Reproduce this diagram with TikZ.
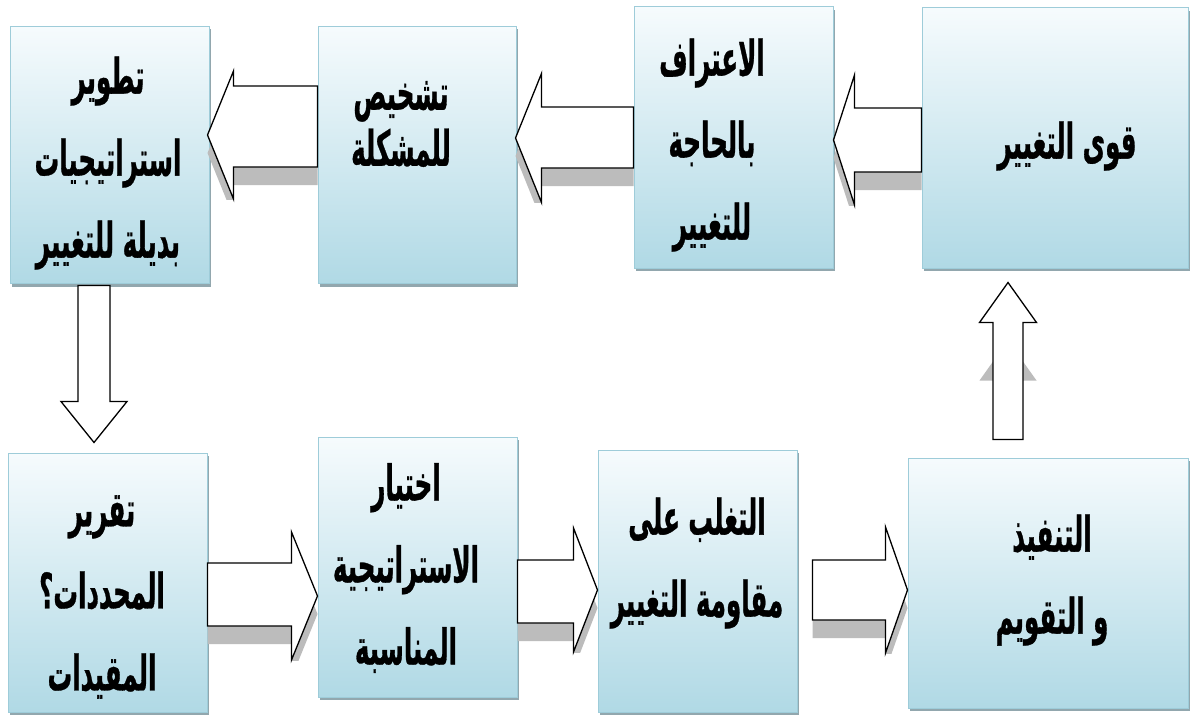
\documentclass[tikz,border=0pt]{standalone}
\usepackage{fontspec}
\TeXXeTstate=1
\newfontfamily\arabicfont[Script=Arabic,FakeStretch=0.5,FakeBold=0.6]{DejaVu Sans}
\usetikzlibrary{calc,shadows}

\definecolor{boxtop}{RGB}{246,251,253}
\definecolor{boxbot}{RGB}{176,217,229}
\definecolor{boxedge}{RGB}{158,204,217}
\definecolor{boxshade}{RGB}{135,158,166}
\definecolor{arrowshade}{RGB}{188,188,188}

% one right-to-left line of Arabic
\newcommand\arl[1]{\beginR #1\endR}

% horizontal block arrow: tail, tip, shaft above, shaft below,
% head half-height, head length, shadow drop (all in pt)
\newcommand\hblock[7]{%
  \begin{scope}
    \clip let \p1=(#1), \p2=(#2) in (\x1,\y2+#5pt) rectangle (\x2,\y2-#5pt);
    \fill[arrowshade] let \p1=(#1), \p2=(#2), \p3=($(#2)!#6pt!(#1)$) in
      (\x1,\y2+#3pt-#7pt) -- (\x3,\y2+#3pt-#7pt) -- (\x3,\y2+#5pt-#7pt) --
      (\x2,\y2-#7pt) -- (\x3,\y2-#5pt-#7pt) -- (\x3,\y2-#4pt-#7pt) --
      (\x1,\y2-#4pt-#7pt) -- cycle;
  \end{scope}
  \filldraw[blockarrow] let \p1=(#1), \p2=(#2), \p3=($(#2)!#6pt!(#1)$) in
    (\x1,\y2+#3pt) -- (\x3,\y2+#3pt) -- (\x3,\y2+#5pt) -- (\x2,\y2) --
    (\x3,\y2-#5pt) -- (\x3,\y2-#4pt) -- (\x1,\y2-#4pt) -- cycle;
}

% vertical block arrow: tail, tip, shaft half-width, head half-width,
% head length, shadow drop (all in pt)
\newcommand\vblock[6]{%
  \begin{scope}
    \clip let \p1=(#1), \p2=(#2) in (\x2-#4pt,\y1) rectangle (\x2+#4pt,\y2);
    \fill[arrowshade] let \p1=(#1), \p2=(#2), \p3=($(#2)!#5pt!(#1)$) in
      (\x2-#3pt,\y1-#6pt) -- (\x2-#3pt,\y3-#6pt) -- (\x2-#4pt,\y3-#6pt) --
      (\x2,\y2-#6pt) -- (\x2+#4pt,\y3-#6pt) -- (\x2+#3pt,\y3-#6pt) --
      (\x2+#3pt,\y1-#6pt) -- cycle;
  \end{scope}
  \filldraw[blockarrow] let \p1=(#1), \p2=(#2), \p3=($(#2)!#5pt!(#1)$) in
    (\x2-#3pt,\y1) -- (\x2-#3pt,\y3) -- (\x2-#4pt,\y3) -- (\x2,\y2) --
    (\x2+#4pt,\y3) -- (\x2+#3pt,\y3) -- (\x2+#3pt,\y1) -- cycle;
}

\begin{document}
\begin{tikzpicture}[x=1pt,y=-1pt,
  stagebox/.style={rectangle, inner sep=0pt, draw=boxedge, line width=1pt,
    top color=boxtop, bottom color=boxbot,
    drop shadow={shadow xshift=2pt, shadow yshift=-3pt, fill=boxshade, opacity=0.9}},
  stagetext/.style={inner sep=0pt, align=center,
    font=\arabicfont\bfseries\fontsize{49}{82}\selectfont},
  blockarrow/.style={fill=white, draw=black, line width=1.3pt, line join=miter}]

\useasboundingbox (0,0) rectangle (1191,717);
\fill[white] (0,0) rectangle (1191,717);

% top row, right to left
\node[stagebox, minimum width=199pt, minimum height=257pt] (A) at (109.5,155) {};
\node[stagebox, minimum width=198pt, minimum height=257pt] (B) at (417,155) {};
\node[stagebox, minimum width=199pt, minimum height=261pt] (C) at (733.5,137.5) {};
\node[stagebox, minimum width=266pt, minimum height=260pt] (D) at (1055,138) {};

% bottom row, left to right
\node[stagebox, minimum width=199pt, minimum height=259pt] (E) at (107.5,582.5) {};
\node[stagebox, minimum width=199pt, minimum height=260pt] (F) at (417.5,567) {};
\node[stagebox, minimum width=199pt, minimum height=262pt] (G) at (697.5,581) {};
\node[stagebox, minimum width=280pt, minimum height=250pt] (H) at (1048,583) {};

% stage labels
\node[stagetext] (At) at (108,163) {\arl{تطوير}\\\arl{استراتيجيات}\\\arl{بديلة للتغيير}};
\node[stagetext, font=\arabicfont\bfseries\fontsize{49}{56}\selectfont] (Bt) at (401,124) {\arl{تشخيص}\\\arl{للمشكلة}};
\node[stagetext] (Ct) at (712,145) {\arl{الاعتراف}\\\arl{بالحاجة}\\\arl{للتغيير}};
\node[stagetext] (Dt) at (1067,146) {\arl{قوى التغيير}};
\node[stagetext] (Et) at (102,597) {\arl{تقرير}\\\arl{المحددات؟}\\\arl{المقيدات}};
\node[stagetext] (Ft) at (406,568) {\arl{اختيار}\\\arl{الاستراتيجية}\\\arl{المناسبة}};
\node[stagetext] (Gt) at (697,563) {\arl{التغلب على}\\\arl{مقاومة التغيير}};
\node[stagetext] (Ht) at (1052,580) {\arl{التنفيذ}\\\arl{و التقويم}};

% arrow ends
\coordinate (ba0) at ($(B.west)+(0,-20)$);
\coordinate (ba1) at ($(A.east)+(-2,-20)$);
\coordinate (cb0) at ($(C.west)+(0,0.5)$);
\coordinate (cb1) at ($(B.east)+(-1,-17)$);
\coordinate (dc0) at ($(D.west)+(0,2)$);
\coordinate (dc1) at ($(C.east)+(0,2.5)$);
\coordinate (ae0) at ($(A.south)+(-15.5,1.5)$);
\coordinate (ae1) at ($(E.north)+(-13.5,-10)$);
\coordinate (ef0) at ($(E.east)+(0,13.5)$);
\coordinate (ef1) at ($(F.west)+(0,29)$);
\coordinate (fg0) at ($(F.east)+(0,23)$);
\coordinate (fg1) at ($(G.west)+(0,9)$);
\coordinate (gh0) at ($(G.east)+(15,9)$);
\coordinate (gh1) at ($(H.west)+(0,7)$);
\coordinate (hd0) at ($(H.north)+(-40,-18)$);
\coordinate (hd1) at ($(D.south)+(-47,14)$);

% block arrows
\hblock{ba0}{ba1}{49}{32}{64}{26}{18}
\hblock{cb0}{cb1}{31}{30}{64.5}{26}{18}
\hblock{dc0}{dc1}{32}{32}{65}{21}{18}
\vblock{ae0}{ae1}{16}{33}{41}{0}
\hblock{ef0}{ef1}{33}{30}{64}{26}{18}
\hblock{fg0}{fg1}{30}{33}{62}{24}{18}
\hblock{gh0}{gh1}{30}{30}{63}{22}{18}
\vblock{hd0}{hd1}{15}{28.5}{40}{58}

\end{tikzpicture}
\end{document}
